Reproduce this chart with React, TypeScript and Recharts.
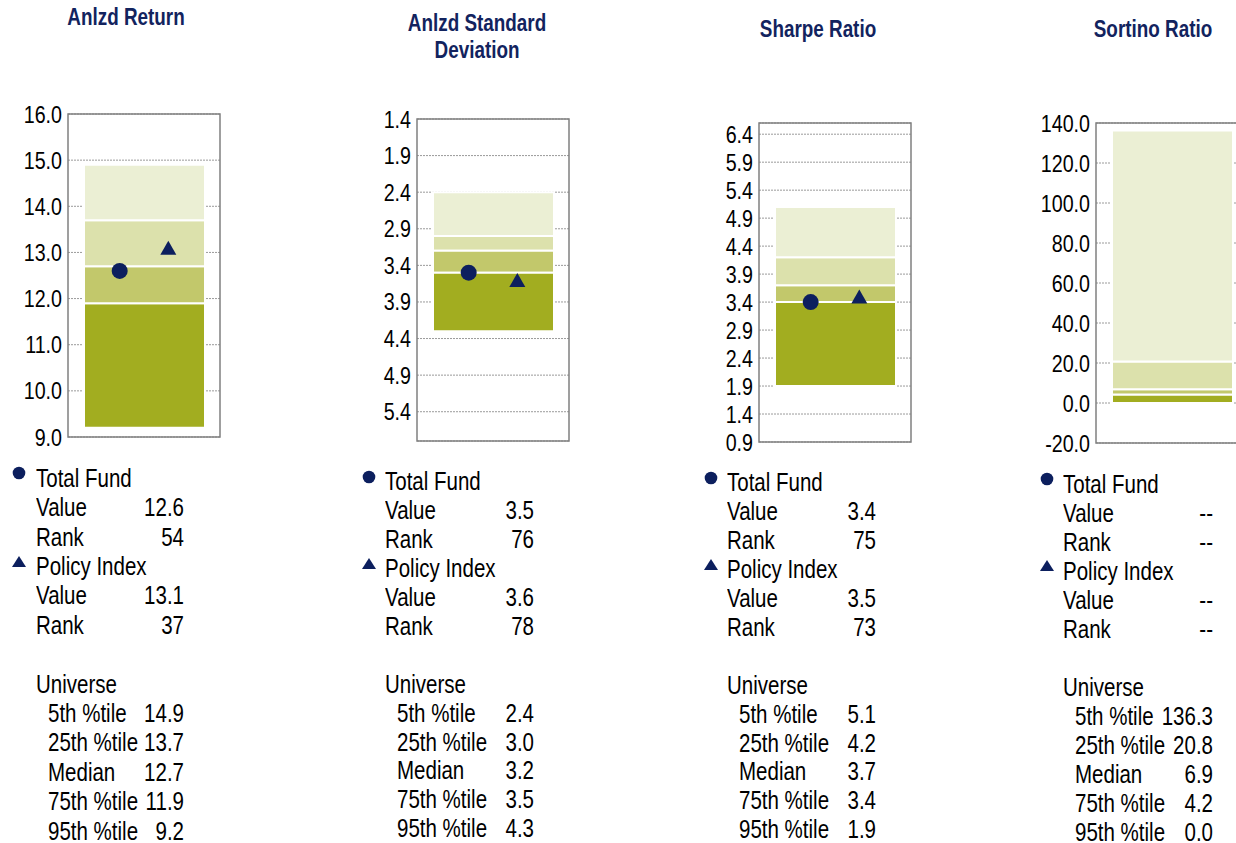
import React from "react";
import { Bar, CartesianGrid, ComposedChart, ReferenceArea, Scatter, XAxis, YAxis } from "recharts";

// one entry per panel: return, std dev, sharpe, sortino
const TITLES = ["Anlzd Return", "Anlzd Standard\nDeviation", "Sharpe Ratio", "Sortino Ratio"];
const P5 = [14.9, 2.4, 5.1, 136.3];
const P25 = [13.7, 3.0, 4.2, 20.8];
const P50 = [12.7, 3.2, 3.7, 6.9];
const P75 = [11.9, 3.5, 3.4, 4.2];
const P95 = [9.2, 4.3, 1.9, 0.0];
const FUND_VALUE = [12.6, 3.5, 3.4, null];
const FUND_RANK = [54, 76, 75, null];
const POLICY_VALUE = [13.1, 3.6, 3.5, null];
const POLICY_RANK = [37, 78, 73, null];

const Y_DOMAINS: [number, number][] = [[9, 16], [1.4, 5.8], [0.9, 6.6], [-20, 140]];
const Y_TICKS = [
  [9, 10, 11, 12, 13, 14, 15, 16],
  [1.4, 1.9, 2.4, 2.9, 3.4, 3.9, 4.4, 4.9, 5.4],
  [0.9, 1.4, 1.9, 2.4, 2.9, 3.4, 3.9, 4.4, 4.9, 5.4, 5.9, 6.4],
  [-20, 0, 20, 40, 60, 80, 100, 120, 140],
];
const REVERSED = [false, true, false, false];

// layout (px)
const BOX_LEFT = [68, 417, 759, 1096];
const BOX_TOP = [114, 119, 123, 123];
const BOX_H = [323, 322, 319, 320];
const BOX_W = 152;
const AXIS_W = 68;
const PAD = 24;
const TITLE_X = [126, 476.7, 817.5, 1153];
const TITLE_TOP = [4.4, 10.4, 15.9, 15.9];
const TEXT_LEFT = [35.7, 385, 727, 1063];
const VALUE_RIGHT = [184, 534, 876, 1213];
const TABLE_TOP = [463, 467, 468, 469];
const ROW_H = [29.4, 28.9, 28.9, 29];
const FUND_X = 3.4;
const POLICY_X = 6.6;

// no narrow face installed, so squeeze a regular one
const FONT = '"Liberation Sans", Arial, sans-serif';
const SQUEEZE = 0.82;
const NAVY = "#0c1f5e";
const TITLE_NAVY = "#12235e";
const BAND_COLORS: Record<string, string> = {
  b25: "#ebefd4",
  b50: "#dce1ac",
  b75: "#c2c86b",
  b95: "#a2ad20",
};

const fmt = (v: number | null) => (v == null ? "--" : v.toFixed(1));
const fmtRank = (v: number | null) => (v == null ? "--" : String(v));

const circleShape = (p: any) => <circle cx={p.cx} cy={p.cy} r={8} fill={NAVY} />;
const triangleShape = (p: any) => (
  <polygon
    points={`${p.cx - 8},${p.cy + 7} ${p.cx + 8},${p.cy + 7} ${p.cx},${p.cy - 7}`}
    fill={NAVY}
  />
);

const NarrowTick = (p: any) => (
  <text
    x={p.x}
    y={p.y}
    dy="0.355em"
    textAnchor="end"
    fill="#000"
    fontSize={24}
    fontFamily={FONT}
    transform={`translate(${p.x} 0) scale(${SQUEEZE} 1) translate(${-p.x} 0)`}
  >
    {Number(p.payload.value).toFixed(1)}
  </text>
);

function PanelChart({ i }: { i: number }) {
  const lo = Math.min(P5[i], P95[i]);
  const row = {
    name: "u",
    base: lo,
    b95: Math.abs(P75[i] - P95[i]),
    b75: Math.abs(P50[i] - P75[i]),
    b50: Math.abs(P25[i] - P50[i]),
    b25: Math.abs(P5[i] - P25[i]),
  };
  const order = P95[i] < P5[i] ? ["b95", "b75", "b50", "b25"] : ["b25", "b50", "b75", "b95"];
  const [d0, d1] = Y_DOMAINS[i];
  return (
    <div style={{ position: "absolute", left: BOX_LEFT[i] - AXIS_W, top: BOX_TOP[i] - PAD }}>
      <ComposedChart
        width={AXIS_W + BOX_W + 20}
        height={BOX_H[i] + PAD * 2}
        data={[row]}
        margin={{ top: PAD, right: 20, bottom: PAD, left: 0 }}
        barCategoryGap={0}
      >
        <CartesianGrid vertical={false} stroke="#9a9a9a" strokeDasharray="2 1" />
        <XAxis dataKey="name" hide />
        <XAxis xAxisId="n" type="number" dataKey="x" domain={[0, 10]} hide />
        <YAxis
          width={AXIS_W}
          domain={[d0, d1]}
          ticks={Y_TICKS[i]}
          reversed={REVERSED[i]}
          allowDataOverflow
          interval={0}
          axisLine={false}
          tickLine={false}
          tickSize={0}
          tickMargin={6}
          tick={NarrowTick}
        />
        <Bar dataKey="base" stackId="u" fill="transparent" barSize={121} isAnimationActive={false} />
        {order.map((k) => (
          <Bar
            key={k}
            dataKey={k}
            stackId="u"
            fill={BAND_COLORS[k]}
            stroke="#ffffff"
            strokeWidth={2}
            barSize={121}
            isAnimationActive={false}
          />
        ))}
        {FUND_VALUE[i] != null && (
          <Scatter
            xAxisId="n"
            data={[{ x: FUND_X, y: FUND_VALUE[i] }]}
            dataKey="y"
            shape={circleShape}
            isAnimationActive={false}
          />
        )}
        {POLICY_VALUE[i] != null && (
          <Scatter
            xAxisId="n"
            data={[{ x: POLICY_X, y: POLICY_VALUE[i] }]}
            dataKey="y"
            shape={triangleShape}
            isAnimationActive={false}
          />
        )}
        <ReferenceArea y1={d0} y2={d1} fill="none" stroke="#808080" strokeWidth={1.5} ifOverflow="visible" />
      </ComposedChart>
    </div>
  );
}

// tight line box so the last row stays inside the page; shift keeps the baseline where it was
const TEXT_LH = 20;

function StatTable({ i }: { i: number }) {
  const rows: { label: string; value?: string; marker?: string; indent?: boolean }[] = [
    { label: "Total Fund", marker: "circle" },
    { label: "Value", value: fmt(FUND_VALUE[i]) },
    { label: "Rank", value: fmtRank(FUND_RANK[i]) },
    { label: "Policy Index", marker: "triangle" },
    { label: "Value", value: fmt(POLICY_VALUE[i]) },
    { label: "Rank", value: fmtRank(POLICY_RANK[i]) },
    { label: "" },
    { label: "Universe" },
    { label: "5th %tile", value: fmt(P5[i]), indent: true },
    { label: "25th %tile", value: fmt(P25[i]), indent: true },
    { label: "Median", value: fmt(P50[i]), indent: true },
    { label: "75th %tile", value: fmt(P75[i]), indent: true },
    { label: "95th %tile", value: fmt(P95[i]), indent: true },
  ];
  const lh = ROW_H[i];
  return (
    <>
      {rows.map((r, k) => {
        const top = TABLE_TOP[i] + k * lh;
        const capMid = top + 14.4;
        const textTop = top + (lh - TEXT_LH) / 2;
        return (
          <React.Fragment key={k}>
            {r.marker && (
              <svg
                width={18}
                height={18}
                style={{ position: "absolute", left: TEXT_LEFT[i] - 16.5 - 9, top: capMid - 4 - 9 }}
              >
                {r.marker === "circle" ? (
                  <circle cx={9} cy={9} r={6.3} fill={NAVY} />
                ) : (
                  <polygon points="2,14 16,14 9,3" fill={NAVY} />
                )}
              </svg>
            )}
            <div
              style={{
                position: "absolute",
                left: TEXT_LEFT[i] + (r.indent ? 12 : 0),
                top: textTop,
                lineHeight: `${TEXT_LH}px`,
                whiteSpace: "nowrap",
                transform: `scaleX(${SQUEEZE})`,
                transformOrigin: "left center",
              }}
            >
              {r.label}
            </div>
            {r.value != null && (
              <div
                style={{
                  position: "absolute",
                  left: VALUE_RIGHT[i] - 100,
                  width: 100,
                  top: textTop,
                  lineHeight: `${TEXT_LH}px`,
                  textAlign: "right",
                  transform: `scaleX(${SQUEEZE})`,
                  transformOrigin: "right center",
                }}
              >
                {r.value}
              </div>
            )}
          </React.Fragment>
        );
      })}
    </>
  );
}

export default function App() {
  return (
    <div
      style={{
        position: "fixed",
        left: 0,
        top: 0,
        width: 1236,
        height: 843,
        overflow: "hidden",
        background: "#fff",
        fontFamily: FONT,
        fontSize: 25,
        color: "#000",
      }}
    >
      {TITLES.map((t, i) => (
        <div
          key={t}
          style={{
            position: "absolute",
            left: TITLE_X[i] - 120,
            width: 240,
            top: TITLE_TOP[i],
            textAlign: "center",
            fontSize: 23,
            fontWeight: "bold",
            lineHeight: "26.7px",
            color: TITLE_NAVY,
            whiteSpace: "pre-line",
            transform: `scaleX(${SQUEEZE})`,
            transformOrigin: "center center",
          }}
        >
          {t}
        </div>
      ))}
      {TITLES.map((t, i) => (
        <PanelChart key={t} i={i} />
      ))}
      {TITLES.map((t, i) => (
        <StatTable key={t} i={i} />
      ))}
    </div>
  );
}
